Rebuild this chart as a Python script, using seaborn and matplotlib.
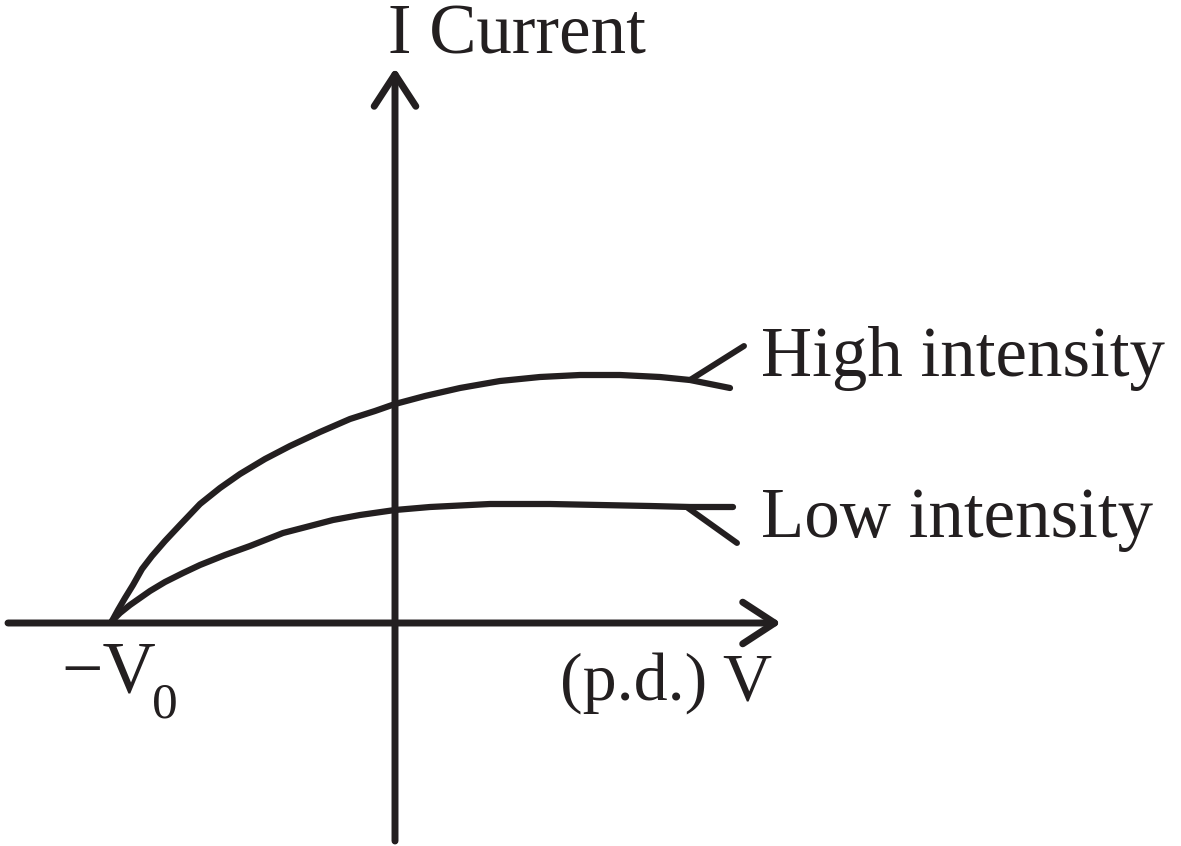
import pandas as pd
import matplotlib
matplotlib.use("Agg")
import matplotlib.pyplot as plt
import seaborn as sns

# Curves (V, I in arbitrary units, origin at the axes crossing)
v_high = [-2.83, -2.77, -2.70, -2.62, -2.53, -2.43, -2.30, -2.15, -1.95, -1.75, -1.55, -1.30, -1.05,
          -0.75, -0.45, -0.20, 0.00, 0.30, 0.65, 1.05, 1.45, 1.85, 2.25, 2.65, 2.95, 3.15, 3.35]
i_high = [0.02, 0.13, 0.25, 0.38, 0.54, 0.67, 0.82, 0.98, 1.19, 1.35, 1.49, 1.64, 1.77,
          1.91, 2.04, 2.12, 2.19, 2.27, 2.35, 2.42, 2.46, 2.48, 2.48, 2.46, 2.43, 2.39, 2.35]

v_low = [-2.83, -2.75, -2.65, -2.55, -2.45, -2.30, -2.12, -1.95, -1.70, -1.45, -1.12,
         -0.85, -0.62, -0.35, 0.00, 0.35, 0.95, 1.55, 2.05, 2.55, 2.95, 3.38]
i_low = [0.02, 0.10, 0.18, 0.25, 0.32, 0.41, 0.50, 0.58, 0.68, 0.77, 0.90,
         0.97, 1.03, 1.08, 1.13, 1.16, 1.19, 1.19, 1.18, 1.17, 1.16, 1.16]

# Leader lines from the curves to the labels
lead_high_v = [2.95, 3.49]
lead_high_i = [2.43, 2.77]
lead_low_v = [2.93, 3.42]
lead_low_i = [1.15, 0.80]

labels = ["High intensity", "Low intensity"]

df = pd.concat([
    pd.DataFrame({"V": v_high, "I": i_high, "curve": labels[0]}),
    pd.DataFrame({"V": v_low, "I": i_low, "curve": labels[1]}),
])

sns.set_style("white")
plt.rcParams["font.family"] = ["Liberation Serif", "DejaVu Serif"]

fig = plt.figure(figsize=(11.81, 8.46), dpi=100)
ax = fig.add_axes([0, 0, 1, 1])
ink = "#231f20"

sns.lineplot(data=df, x="V", y="I", units="curve", estimator=None, sort=False,
             color=ink, lw=4.5, legend=False, ax=ax)
sns.lineplot(x=lead_high_v, y=lead_high_i, sort=False, color=ink, lw=4.3, ax=ax)
sns.lineplot(x=lead_low_v, y=lead_low_i, sort=False, color=ink, lw=4.3, ax=ax)

# axes with open arrow heads
arrow = dict(arrowstyle="->,head_length=23,head_width=15", mutation_scale=1,
             lw=5, color=ink, shrinkA=0, shrinkB=0)
ax.annotate("", xy=(3.86, 0), xytext=(-3.87, 0), arrowprops=arrow)
ax.annotate("", xy=(0, 5.55), xytext=(0, -2.18), arrowprops=arrow)

ax.text(-0.07, 5.70, "I Current", fontsize=51, color=ink, va="baseline", ha="left")
ax.text(1.65, -0.77, "(p.d.) V", fontsize=49, color=ink, va="baseline", ha="left")
ax.text(-3.34, -0.69, "\u2212V", fontsize=53, color=ink, va="baseline", ha="left")
ax.text(-2.43, -0.94, "0", fontsize=37, color=ink, va="baseline", ha="left")
ax.text(3.66, 2.47, labels[0], fontsize=51, color=ink, va="baseline", ha="left")
ax.text(3.66, 0.86, labels[1], fontsize=51, color=ink, va="baseline", ha="left")

ax.set_xlim(-3.95, 7.86)
ax.set_ylim(-2.23, 6.23)
ax.axis("off")

fig.savefig("out.png", dpi=100, facecolor="white")
